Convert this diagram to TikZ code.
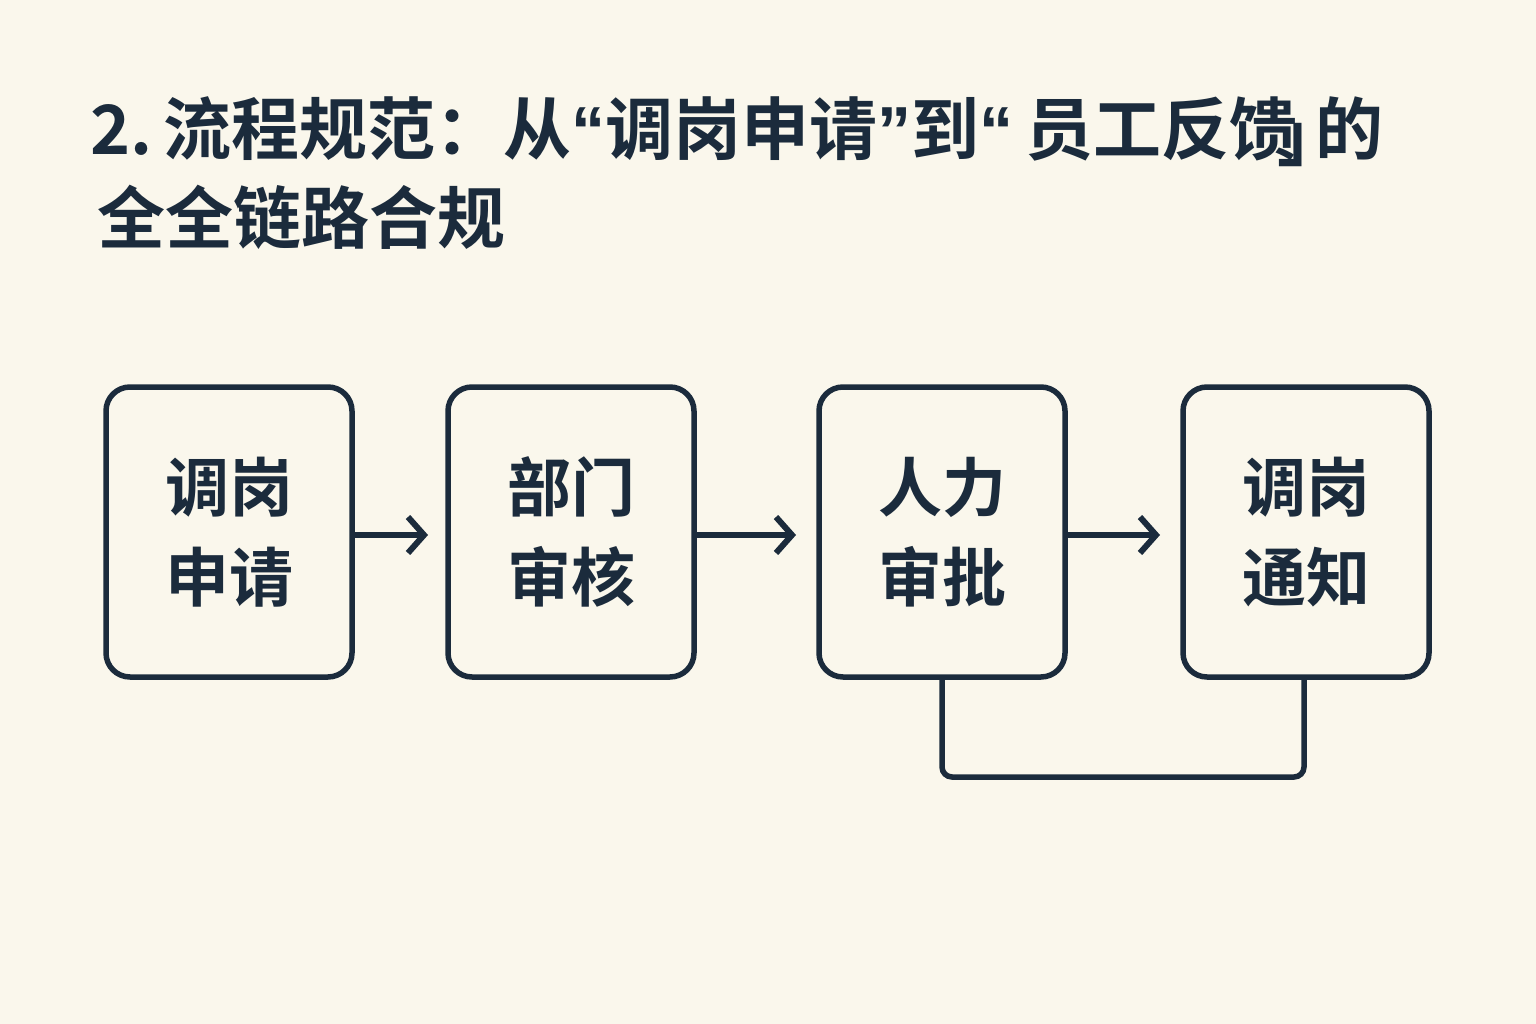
\documentclass[tikz,border=0pt]{standalone}
\usepackage{fontspec}
\newfontfamily\cjk{Noto Sans CJK SC Bold}
\newfontfamily\latn{Liberation Sans Bold}
\usetikzlibrary{arrows.meta}
\definecolor{bg}{HTML}{FAF7EC}
\definecolor{ink}{HTML}{1B2B3C}
\tikzset{stepbox/.style={draw=ink,line width=5.5pt,rounded corners=24pt,minimum width=246pt,minimum height=290pt,text=ink,align=center,font=\cjk\fontsize{64}{90}\selectfont},
conn/.style={draw=ink,line width=6pt,-{Straight Barb[length=16pt,width=36pt,line width=6pt]}}}
\begin{document}
\begin{tikzpicture}[x=1pt,y=-1pt]
\fill[bg] (0,0) rectangle (1536,1024);
\useasboundingbox (0,0) rectangle (1536,1024);
\node[anchor=base west,text=ink,font=\cjk\fontsize{68}{80}\selectfont,inner sep=0] (t1) at (90,155) {2.\,流程规范：从{\latn“}调岗申请{\latn”}到{\latn“}\,员工反馈\kern-20pt\raisebox{-6pt}{」}\kern-30pt 的};
\node[anchor=base west,text=ink,font=\cjk\fontsize{68}{80}\selectfont,inner sep=0] (t2) at (97,244) {全全链路合规};
\node[stepbox] (b1) at (229,532) {调岗\\申请};
\node[stepbox] (b2) at (571,532) {部门\\审核};
\node[stepbox] (b3) at (942,532) {人力\\审批};
\node[stepbox] (b4) at (1306,532) {调岗\\通知};
\coordinate (e1) at (428,535);
\coordinate (e2) at (796,535);
\coordinate (e3) at (1160,535);
\draw[conn] (b1.east|-e1) -- (e1);
\draw[conn] (b2.east|-e2) -- (e2);
\draw[conn] (b3.east|-e3) -- (e3);
\draw[draw=ink,line width=5.5pt,rounded corners=10pt] (b3.south) -- (942,777) -- (1304,777) -- (b4.south-|1304,0);
\end{tikzpicture}
\end{document}
